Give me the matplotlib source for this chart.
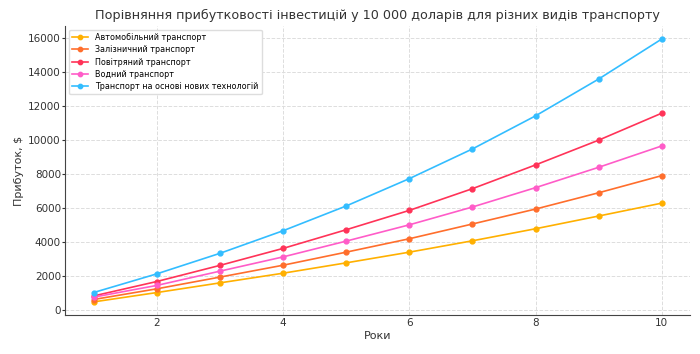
import matplotlib.pyplot as plt

years = [1, 2, 3, 4, 5, 6, 7, 8, 9, 10]

car = [450, 1000, 1570, 2140, 2750, 3380, 4050, 4760, 5510, 6270]
rail = [590, 1220, 1910, 2610, 3380, 4170, 5040, 5920, 6880, 7890]
air = [800, 1650, 2600, 3600, 4700, 5840, 7120, 8520, 9980, 11570]
water = [730, 1420, 2260, 3100, 4030, 4990, 6040, 7180, 8380, 9640]
newtech = [1000, 2100, 3310, 4640, 6100, 7710, 9460, 11410, 13580, 15940]

labels = ["Автомобільний транспорт", "Залізничний транспорт", "Повітряний транспорт",
          "Водний транспорт", "Транспорт на основі нових технологій"]
colors = ["#ffb000", "#ff6e2c", "#ff3358", "#ff5cc8", "#33bdff"]

fig = plt.figure(figsize=(7, 3.54), dpi=100)
ax = fig.add_axes([0.093, 0.11, 0.893, 0.817])

for vals, lab, c in zip([car, rail, air, water, newtech], labels, colors):
    ax.plot(years, vals, marker="o", markersize=3.5, linewidth=1.2, color=c, label=lab)

ax.set_title("Порівняння прибутковості інвестицій у 10 000 доларів для різних видів транспорту",
             fontsize=9.2, color="#333333", pad=5)
ax.set_xlabel("Роки", fontsize=8, color="#333333", labelpad=2)
ax.set_ylabel("Прибуток, $", fontsize=8, color="#333333", labelpad=3)
ax.tick_params(labelsize=7.5, colors="#333333", length=2, pad=1)
ax.tick_params(axis="x", length=0, pad=2)
ax.grid(True, linestyle="--", color="#dddddd", linewidth=0.7)
for s in ["top", "right"]:
    ax.spines[s].set_visible(False)
for s in ["left", "bottom"]:
    ax.spines[s].set_color("#444444")
ax.set_xticks([2, 4, 6, 8, 10])
ax.legend(loc="upper left", fontsize=5.8, framealpha=1, edgecolor="#dddddd",
          labelspacing=0.4, handlelength=2, borderpad=0.4, markerscale=0.9)

fig.savefig("out.png", dpi=100)
